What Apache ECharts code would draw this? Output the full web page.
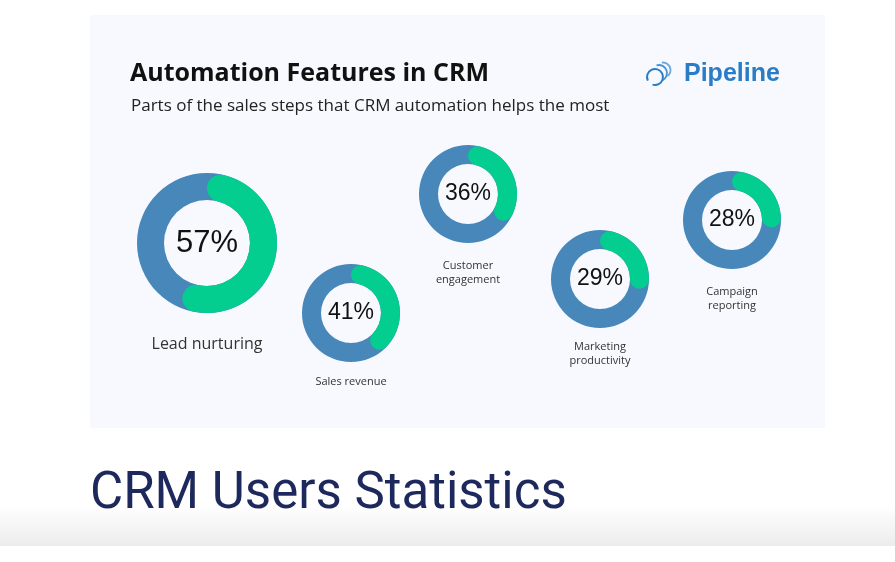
<!DOCTYPE html>
<html><head><meta charset="utf-8">
<script src="https://cdn.jsdelivr.net/npm/echarts@6/dist/echarts.min.js"></script>
<style>html,body{margin:0;padding:0;background:#fff}#c{width:895px;height:562px}</style>
</head><body><div id="c"></div>
<script>
const categories = ['Lead nurturing','Sales revenue','Customer engagement','Marketing productivity','Campaign reporting'];
const values = [57, 41, 36, 29, 28];
const labelLines = ['Lead nurturing','Sales revenue','Customer\nengagement','Marketing\nproductivity','Campaign\nreporting'];

// layout (pixels)
const centers = [[207,243],[351,313],[468,194],[600,279],[732,220]];
const radii = [[43,70],[30,49],[30,49],[30,49],[30,49]];
const pctSize = [31,23,23,23,23];
const nameTop = [335,375,259,340,285];
const nameSize = [16,11,11,11,11];

const BLUE = '#4787ba', GREEN = '#03cd8f';

const series = [];
categories.forEach((c, i) => {
  const [ri, ro] = radii[i];
  series.push({
    type: 'pie', silent: true, center: centers[i], radius: [ri, ro],
    label: {show: false}, labelLine: {show: false}, emphasis: {disabled: true},
    data: [{value: 100, name: c + ' base', itemStyle: {color: BLUE}}]
  });
  series.push({
    type: 'pie', silent: true, center: centers[i], radius: [ri, ro],
    startAngle: 90, clockwise: true, avoidLabelOverlap: false,
    labelLine: {show: false}, emphasis: {disabled: true},
    data: [
      {value: values[i], name: c, itemStyle: {color: GREEN, borderRadius: (ro - ri) / 2},
       label: {show: true, position: 'center', formatter: '{c}%', fontSize: pctSize[i],
               fontFamily: 'Liberation Sans, Arial, sans-serif', color: '#111'}},
      {value: 100 - values[i], name: c + ' rest', itemStyle: {color: 'rgba(0,0,0,0)'}, label: {show: false}}
    ]
  });
});

const LOGO = '#2a7cc7';
const graphic = [
  {type: 'rect', z: -10, shape: {x: 90, y: 15, width: 735, height: 413}, style: {fill: '#f7f9fe'}},
  {type: 'rect', z: -10, shape: {x: 0, y: 505, width: 895, height: 41},
   style: {fill: new echarts.graphic.LinearGradient(0, 0, 0, 1, [{offset: 0, color: '#ffffff'}, {offset: 1, color: '#ececec'}])}},
  {type: 'text', x: 130, y: 61, style: {text: 'Automation Features in CRM', font: 'bold 25px "Open Sans", sans-serif', fill: '#111'}},
  {type: 'text', x: 131, y: 98, style: {text: 'Parts of the sales steps that CRM automation helps the most', font: '17px "Open Sans", sans-serif', fill: '#222'}},
  {type: 'text', x: 684, y: 62, style: {text: 'Pipeline', font: 'bold 25px "Liberation Sans", Arial, sans-serif', fill: LOGO}},
  {type: 'arc', shape: {cx: 663, cy: 70, r: 7.5, startAngle: Math.PI * 1.45, endAngle: Math.PI * 2.3}, style: {stroke: '#6aa7dc', lineWidth: 1.8, fill: null}},
  {type: 'arc', shape: {cx: 659, cy: 73, r: 8, startAngle: Math.PI * 1.4, endAngle: Math.PI * 2.35}, style: {stroke: '#4a92d2', lineWidth: 1.8, fill: null}},
  {type: 'arc', shape: {cx: 655, cy: 77, r: 8, startAngle: Math.PI * 0.85, endAngle: Math.PI * 2.6}, style: {stroke: LOGO, lineWidth: 2, fill: null}},
  {type: 'text', x: 90, y: 470, style: {text: 'CRM Users Statistics', font: '51px Roboto, sans-serif', fill: '#1d295c'}}
];
labelLines.forEach((t, i) => {
  graphic.push({type: 'text', x: centers[i][0], y: nameTop[i],
    style: {text: t, align: 'center', font: nameSize[i] + 'px "Open Sans", sans-serif', fill: '#333', lineHeight: nameSize[i] + 3}});
});

const chart = echarts.init(document.getElementById('c'), null, {renderer: 'canvas'});
chart.setOption({backgroundColor: '#fff', animation: false, graphic: graphic, series: series});
</script></body></html>
